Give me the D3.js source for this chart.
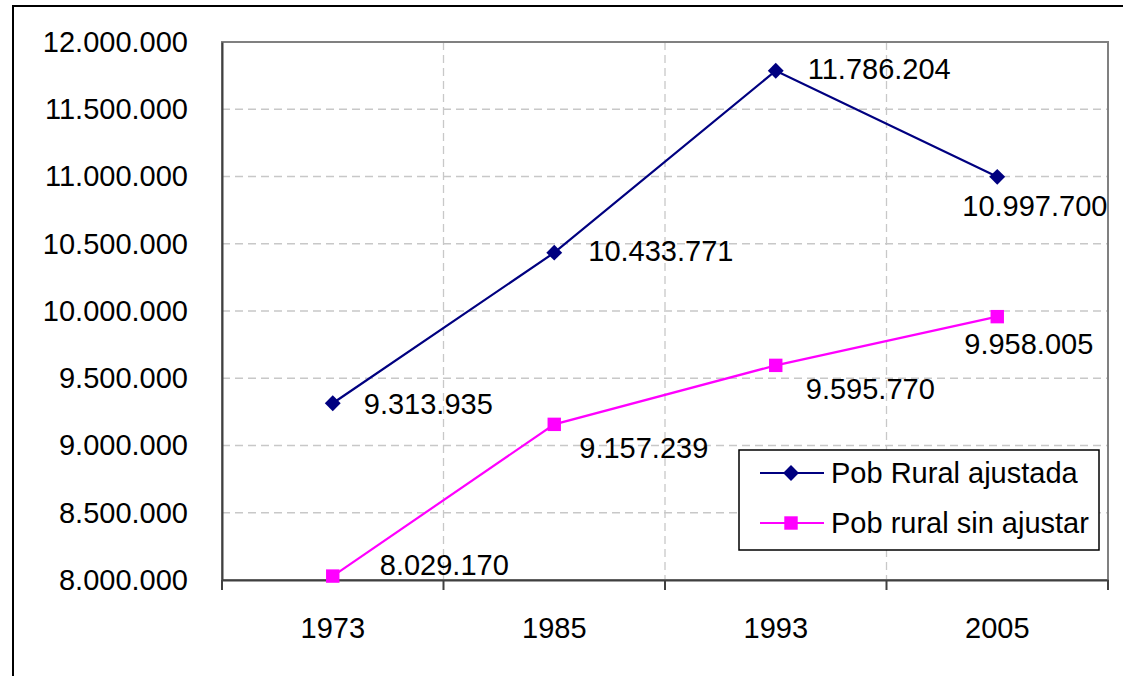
<!DOCTYPE html>
<html>
<head>
<meta charset="utf-8">
<script src="https://cdn.jsdelivr.net/npm/d3@7"></script>
<style>
  body { margin: 0; background: #fff; }
  svg { display: block; font-family: "Liberation Sans", Arial, sans-serif; }
</style>
</head>
<body>
<svg id="chart" width="1123" height="676"></svg>
<script>
const years = ["1973", "1985", "1993", "2005"];
const ajustada = [9313935, 10433771, 11786204, 10997700];
const sinAjustar = [8029170, 9157239, 9595770, 9958005];
const yTicks = [8000000, 8500000, 9000000, 9500000, 10000000, 10500000, 11000000, 11500000, 12000000];
const seriesNames = ["Pob Rural ajustada", "Pob rural sin ajustar"];
// label offsets (dx, dy) from each point, as placed in the original
const offAjustada = [[31, 0], [34, -2], [32, -2], [-35, 29]];
const offSin = [[47, -12], [25, 23], [30, 23], [-33, 27]];

const svg = d3.select("#chart");
const m = {left: 222, right: 1108, top: 42, bottom: 580};
const fs = 29;

const x = d3.scaleBand().domain(years).range([m.left, m.right]);
const y = d3.scaleLinear().domain([8000000, 12000000]).range([m.bottom, m.top]);
const fmt = v => d3.format(",")(v).replace(/,/g, ".");

// outer frame
svg.append("rect").attr("x", 13).attr("y", 6).attr("width", 1130).attr("height", 700)
  .attr("fill", "none").attr("stroke", "#000").attr("stroke-width", 2);

// gridlines
svg.append("g").selectAll("line").data(yTicks.slice(1))
  .enter().append("line")
    .attr("x1", m.left).attr("x2", m.right)
    .attr("y1", d => y(d)).attr("y2", d => y(d))
    .attr("stroke", "#c8c8c8").attr("stroke-width", 1.3).attr("stroke-dasharray", "8,5");
svg.append("g").selectAll("line").data(years.slice(1))
  .enter().append("line")
    .attr("x1", d => x(d)).attr("x2", d => x(d))
    .attr("y1", m.top).attr("y2", m.bottom)
    .attr("stroke", "#c8c8c8").attr("stroke-width", 1.3).attr("stroke-dasharray", "8,5");

// plot frame
svg.append("rect").attr("x", m.left).attr("y", m.top).attr("width", m.right - m.left).attr("height", m.bottom - m.top)
  .attr("fill", "none").attr("stroke", "#808080").attr("stroke-width", 2);

// y axis
const yAxis = svg.append("g").attr("transform", `translate(${m.left},0)`)
  .call(d3.axisLeft(y).tickValues(yTicks).tickFormat(fmt).tickSize(0).tickPadding(34));
yAxis.select(".domain").attr("stroke", "#404040").attr("stroke-width", 2);
yAxis.selectAll("text").attr("font-size", fs).attr("fill", "#000").attr("font-family", null);

// x axis
const xAxis = svg.append("g").attr("transform", `translate(0,${m.bottom})`)
  .call(d3.axisBottom(x).tickSize(0).tickPadding(37));
xAxis.select(".domain").attr("stroke", "#404040").attr("stroke-width", 2);
xAxis.selectAll("text").attr("font-size", fs).attr("fill", "#000").attr("font-family", null);
svg.append("g").selectAll("line").data(years.map(d => x(d)).concat([m.right]))
  .enter().append("line")
    .attr("x1", d => d).attr("x2", d => d)
    .attr("y1", m.bottom).attr("y2", m.bottom + 10)
    .attr("stroke", "#404040").attr("stroke-width", 2);

const cx = d => x(d) + x.bandwidth() / 2;
const line = d3.line().x((d, i) => cx(years[i])).y(d => y(d));

const diamond = d3.symbol().type(d3.symbolDiamond2).size(160);
const square = d3.symbol().type(d3.symbolSquare).size(180);

function drawSeries(values, color, sym, offs) {
  svg.append("path").datum(values)
    .attr("d", line).attr("fill", "none").attr("stroke", color).attr("stroke-width", 2.2);
  svg.append("g").selectAll("path").data(values)
    .enter().append("path")
      .attr("d", sym)
      .attr("transform", (d, i) => `translate(${cx(years[i])},${y(d)})`)
      .attr("fill", color);
  svg.append("g").selectAll("text").data(values)
    .enter().append("text")
      .attr("x", (d, i) => cx(years[i]) + offs[i][0])
      .attr("y", (d, i) => y(d) + offs[i][1])
      .attr("dy", "0.36em")
      .attr("font-size", fs)
      .text(fmt);
}
drawSeries(ajustada, "#000080", diamond, offAjustada);
drawSeries(sinAjustar, "#ff00ff", square, offSin);

// legend
const lg = svg.append("g").attr("transform", "translate(739,450)");
lg.append("rect").attr("width", 360).attr("height", 100)
  .attr("fill", "#fff").attr("stroke", "#000").attr("stroke-width", 1.5);
const items = [
  {name: seriesNames[0], color: "#000080", sym: diamond},
  {name: seriesNames[1], color: "#ff00ff", sym: square}
];
const row = lg.selectAll(".row").data(items).enter().append("g")
  .attr("transform", (d, i) => `translate(0,${23 + i * 50})`);
row.append("line").attr("x1", 21).attr("x2", 85)
  .attr("stroke", d => d.color).attr("stroke-width", 2.2);
row.append("path").attr("d", d => d.sym()).attr("transform", "translate(52,0)")
  .attr("fill", d => d.color);
row.append("text").attr("x", 92).attr("dy", "0.36em").attr("font-size", fs).text(d => d.name);
</script>
</body>
</html>
